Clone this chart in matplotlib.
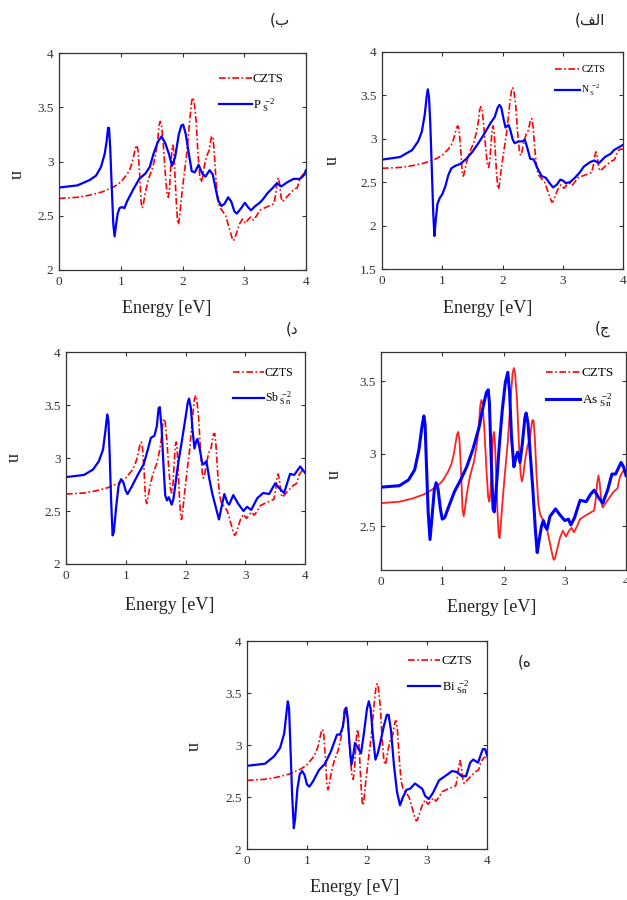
import matplotlib
matplotlib.use('Agg')
import matplotlib.pyplot as plt
from matplotlib.lines import Line2D

plt.rcParams['font.family'] = ['Liberation Serif', 'DejaVu Sans']
plt.rcParams['mathtext.fontset'] = 'custom'
plt.rcParams['mathtext.rm'] = 'Liberation Serif'
plt.rcParams['mathtext.it'] = 'Liberation Serif:italic'

# (energy [eV], n) pairs
# pristine CZTS, same curve in every panel
czts = [(0, 2.66), (0.3, 2.67), (0.5, 2.69), (0.7, 2.72), (0.9, 2.77), (1.0, 2.81),
        (1.1, 2.88), (1.15, 2.93), (1.19, 3.00), (1.22, 3.08), (1.24, 3.13), (1.26, 3.15),
        (1.28, 3.10), (1.31, 2.85), (1.33, 2.62), (1.35, 2.57), (1.37, 2.62), (1.4, 2.72),
        (1.45, 2.84), (1.52, 2.95), (1.57, 3.08), (1.6, 3.20), (1.62, 3.33), (1.64, 3.37),
        (1.66, 3.34), (1.69, 3.15), (1.72, 2.90), (1.75, 2.70), (1.77, 2.67), (1.79, 2.75),
        (1.81, 2.95), (1.83, 3.12), (1.845, 3.15), (1.86, 3.08), (1.88, 2.85), (1.9, 2.62),
        (1.92, 2.45), (1.935, 2.42), (1.95, 2.48), (1.98, 2.65), (2.02, 2.85), (2.07, 3.08),
        (2.12, 3.40), (2.15, 3.56), (2.17, 3.59), (2.19, 3.55), (2.22, 3.38), (2.25, 3.08),
        (2.28, 2.86), (2.3, 2.81), (2.32, 2.84), (2.35, 2.95), (2.39, 3.05), (2.43, 3.10),
        (2.45, 3.17), (2.47, 3.23), (2.49, 3.23), (2.51, 3.12), (2.54, 2.85), (2.57, 2.65),
        (2.6, 2.58), (2.65, 2.54), (2.7, 2.50), (2.76, 2.38), (2.8, 2.30), (2.82, 2.27),
        (2.84, 2.28), (2.88, 2.35), (2.92, 2.42), (2.97, 2.47), (3.02, 2.43), (3.07, 2.47),
        (3.11, 2.49), (3.15, 2.46), (3.2, 2.50), (3.25, 2.55), (3.32, 2.57), (3.4, 2.59),
        (3.48, 2.61), (3.51, 2.70), (3.53, 2.80), (3.55, 2.85), (3.57, 2.80), (3.6, 2.66),
        (3.62, 2.63), (3.7, 2.68), (3.8, 2.74), (3.86, 2.76), (3.9, 2.84), (3.95, 2.88),
        (4.0, 2.88)]

# N_S^-2
ns = [(0, 2.76), (0.3, 2.79), (0.5, 2.87), (0.6, 2.97), (0.66, 3.08), (0.71, 3.28),
      (0.74, 3.48), (0.76, 3.57), (0.78, 3.48), (0.8, 3.2), (0.82, 2.8), (0.85, 2.15),
      (0.87, 1.88), (0.89, 2.05), (0.92, 2.25), (0.96, 2.32), (1.0, 2.36), (1.05, 2.45),
      (1.1, 2.58), (1.15, 2.66), (1.22, 2.69), (1.3, 2.71), (1.4, 2.77), (1.5, 2.85),
      (1.6, 2.95), (1.7, 3.06), (1.8, 3.18), (1.87, 3.25), (1.92, 3.36), (1.95, 3.39),
      (1.98, 3.36), (2.02, 3.22), (2.05, 3.13), (2.08, 3.15), (2.1, 3.16), (2.13, 3.10),
      (2.17, 2.99), (2.2, 2.95), (2.27, 2.97), (2.33, 2.97), (2.37, 2.99), (2.41, 2.90),
      (2.46, 2.77), (2.52, 2.76), (2.58, 2.66), (2.65, 2.57), (2.72, 2.55), (2.78, 2.49),
      (2.84, 2.44), (2.9, 2.47), (2.96, 2.53), (3.0, 2.52), (3.05, 2.49), (3.12, 2.50),
      (3.2, 2.55), (3.28, 2.61), (3.35, 2.68), (3.45, 2.73), (3.52, 2.75), (3.6, 2.72),
      (3.7, 2.79), (3.8, 2.83), (3.85, 2.87), (3.95, 2.91), (4.0, 2.93)]

# P_S^-2
ps = [(0, 2.76), (0.3, 2.78), (0.5, 2.83), (0.6, 2.87), (0.68, 2.95), (0.74, 3.07),
      (0.77, 3.18), (0.795, 3.31), (0.81, 3.31), (0.83, 3.12), (0.855, 2.75), (0.88, 2.42),
      (0.9, 2.31), (0.92, 2.40), (0.95, 2.52), (0.98, 2.57), (1.02, 2.58), (1.06, 2.57),
      (1.1, 2.63), (1.2, 2.74), (1.3, 2.84), (1.4, 2.89), (1.47, 2.95), (1.53, 3.07),
      (1.6, 3.18), (1.66, 3.23), (1.72, 3.17), (1.78, 3.07), (1.83, 2.96), (1.88, 3.04),
      (1.94, 3.25), (1.98, 3.33), (2.01, 3.34), (2.05, 3.26), (2.1, 3.08), (2.15, 2.91),
      (2.2, 2.90), (2.26, 2.97), (2.32, 2.89), (2.37, 2.86), (2.44, 2.92), (2.49, 2.88),
      (2.54, 2.74), (2.58, 2.64), (2.63, 2.59), (2.68, 2.61), (2.74, 2.67), (2.79, 2.63),
      (2.84, 2.54), (2.88, 2.52), (2.95, 2.57), (3.01, 2.62), (3.06, 2.58), (3.11, 2.55),
      (3.18, 2.59), (3.25, 2.62), (3.3, 2.65), (3.38, 2.71), (3.45, 2.75), (3.53, 2.80),
      (3.6, 2.77), (3.7, 2.81), (3.8, 2.84), (3.9, 2.84), (3.96, 2.87), (4.0, 2.92)]

# Sb_Sn^-2
sb = [(0, 2.82), (0.3, 2.84), (0.45, 2.89), (0.55, 2.97), (0.62, 3.08), (0.66, 3.26),
      (0.69, 3.41), (0.71, 3.35), (0.73, 3.05), (0.755, 2.6), (0.78, 2.27), (0.8, 2.30),
      (0.84, 2.54), (0.88, 2.74), (0.92, 2.80), (0.96, 2.77), (1.0, 2.69), (1.03, 2.66),
      (1.1, 2.73), (1.2, 2.84), (1.3, 2.94), (1.37, 3.08), (1.42, 3.19), (1.48, 3.21),
      (1.52, 3.30), (1.55, 3.47), (1.57, 3.48), (1.6, 3.28), (1.63, 2.95), (1.66, 2.65),
      (1.69, 2.60), (1.72, 2.63), (1.77, 2.56), (1.8, 2.62), (1.87, 2.92), (1.95, 3.20),
      (2.0, 3.38), (2.04, 3.53), (2.06, 3.56), (2.09, 3.47), (2.12, 3.25), (2.15, 3.09),
      (2.18, 3.16), (2.2, 3.18), (2.24, 3.08), (2.28, 2.95), (2.3, 2.94), (2.35, 2.97),
      (2.4, 2.80), (2.45, 2.66), (2.5, 2.55), (2.56, 2.42), (2.6, 2.53), (2.65, 2.66),
      (2.7, 2.58), (2.73, 2.56), (2.8, 2.65), (2.88, 2.57), (2.97, 2.50), (3.03, 2.54),
      (3.1, 2.51), (3.2, 2.62), (3.3, 2.67), (3.4, 2.66), (3.5, 2.76), (3.58, 2.71),
      (3.65, 2.67), (3.75, 2.85), (3.82, 2.84), (3.92, 2.92), (4.0, 2.86)]

# As_Sn^-2
as_sn = [(0, 2.77), (0.3, 2.78), (0.45, 2.82), (0.55, 2.89), (0.62, 3.03), (0.67, 3.19),
         (0.7, 3.26), (0.72, 3.20), (0.74, 2.95), (0.77, 2.60), (0.8, 2.41), (0.83, 2.55),
         (0.87, 2.75), (0.9, 2.80), (0.93, 2.76), (0.97, 2.62), (1.0, 2.55), (1.04, 2.56),
         (1.1, 2.63), (1.2, 2.74), (1.3, 2.82), (1.4, 2.91), (1.5, 3.03), (1.6, 3.18),
         (1.67, 3.33), (1.72, 3.42), (1.75, 3.44), (1.77, 3.35), (1.8, 2.95), (1.83, 2.62),
         (1.85, 2.60), (1.88, 2.75), (1.93, 3.05), (1.98, 3.30), (2.03, 3.49), (2.07, 3.56),
         (2.1, 3.42), (2.13, 3.12), (2.17, 2.91), (2.2, 2.97), (2.23, 3.01), (2.27, 2.94),
         (2.31, 3.08), (2.35, 3.25), (2.37, 3.28), (2.4, 3.21), (2.44, 2.98), (2.48, 2.75),
         (2.52, 2.48), (2.55, 2.32), (2.58, 2.40), (2.62, 2.50), (2.65, 2.54), (2.68, 2.50),
         (2.71, 2.48), (2.76, 2.57), (2.85, 2.62), (2.92, 2.58), (3.0, 2.54), (3.06, 2.55),
         (3.1, 2.51), (3.16, 2.56), (3.25, 2.68), (3.35, 2.67), (3.42, 2.72), (3.48, 2.75),
         (3.55, 2.70), (3.62, 2.66), (3.7, 2.75), (3.77, 2.86), (3.83, 2.86), (3.92, 2.94),
         (3.96, 2.91), (4.0, 2.85)]

# Bi_Sn^-2
bi = [(0, 2.80), (0.3, 2.82), (0.45, 2.89), (0.55, 2.97), (0.62, 3.11), (0.66, 3.32),
      (0.68, 3.42), (0.7, 3.36), (0.72, 3.05), (0.75, 2.55), (0.78, 2.20), (0.8, 2.28),
      (0.84, 2.58), (0.88, 2.72), (0.92, 2.75), (0.96, 2.71), (1.0, 2.62), (1.04, 2.60),
      (1.1, 2.65), (1.2, 2.76), (1.3, 2.82), (1.4, 2.94), (1.5, 3.10), (1.55, 3.10),
      (1.6, 3.18), (1.63, 3.32), (1.655, 3.36), (1.68, 3.25), (1.71, 3.00), (1.74, 2.81),
      (1.77, 2.90), (1.8, 3.02), (1.85, 2.97), (1.9, 2.92), (1.95, 3.12), (2.0, 3.35),
      (2.03, 3.42), (2.06, 3.35), (2.1, 3.08), (2.14, 2.86), (2.18, 2.92), (2.22, 3.02),
      (2.28, 3.18), (2.33, 3.29), (2.36, 3.29), (2.4, 3.14), (2.45, 2.80), (2.5, 2.55),
      (2.55, 2.42), (2.6, 2.50), (2.66, 2.57), (2.72, 2.58), (2.8, 2.63), (2.87, 2.60),
      (2.92, 2.58), (2.97, 2.51), (3.03, 2.48), (3.1, 2.54), (3.2, 2.66), (3.3, 2.70),
      (3.42, 2.75), (3.5, 2.74), (3.58, 2.70), (3.65, 2.70), (3.72, 2.83), (3.77, 2.86),
      (3.85, 2.83), (3.93, 2.96), (3.97, 2.96), (4.0, 2.90)]

W, H = 627, 900
fig = plt.figure(figsize=(W / 100, H / 100), dpi=100)


def px_axes(left, right, top, bottom):
    return fig.add_axes([left / W, 1 - bottom / H, (right - left) / W, (bottom - top) / H])


def style(ax, ylim, yticks):
    ax.set_xlim(0, 4)
    ax.set_ylim(*ylim)
    ax.set_xticks([0, 1, 2, 3, 4])
    ax.set_yticks(yticks)
    ax.set_yticklabels([('%g' % t) for t in yticks])
    ax.tick_params(direction='in', top=True, right=True, length=3, width=0.8,
                   labelsize=9.5, labelcolor='#333333', color='#333333', pad=4)
    for s in ax.spines.values():
        s.set_linewidth(0.9)
        s.set_color('#333333')


def xy(pairs):
    return [p[0] for p in pairs], [p[1] for p in pairs]


red_kw = dict(color='#ff0000', lw=1.2, linestyle=(0, (4, 1.5, 1, 1.5)))
blue_kw = dict(color='#0000ff', lw=1.6)

panels = [
    # (axes px box, ylim, yticks, doped curve, label, legend anchor px, legend font)
    ((59, 306, 53, 270), (2, 4), [2, 2.5, 3, 3.5, 4], ps,
     r'P$_{\ \mathregular{S}}^{\ \ \mathregular{-2}}$', (219, 73), 9),
    ((382, 623, 52, 269), (1.5, 4), [1.5, 2, 2.5, 3, 3.5, 4], ns,
     r'N$_{\ \mathregular{S}}^{\ \ \mathregular{-2}}$', (555, 65), 7),
    ((66, 305, 352, 564), (2, 4), [2, 2.5, 3, 3.5, 4], sb,
     r'Sb$_{\ \mathregular{S\,n}}^{\ \ \mathregular{-2}}$', (233, 367), 8.5),
    ((381, 626, 352, 570), (2.2, 3.7), [2.5, 3, 3.5], as_sn,
     r'As$_{\ \mathregular{S\,n}}^{\ \ \mathregular{-2}}$', (546, 367), 9.5),
    ((247, 487, 641, 849), (2, 4), [2, 2.5, 3, 3.5, 4], bi,
     r'Bi$_{\ \mathregular{S\,n}}^{\ \ \mathregular{-2}}$', (408, 655), 9),
]

ce, cn = xy(czts)
for i, (box, ylim, yticks, doped, lab, anchor, lfs) in enumerate(panels):
    ax = px_axes(*box)
    de, dn = xy(doped)
    if i == 3:
        ax.plot(ce, cn, color='#ff2020', lw=1.3)
        ax.plot(de, dn, color='#0000ff', lw=2.2)
        handles = [Line2D([], [], **red_kw), Line2D([], [], color='#0000ff', lw=2.2)]
    else:
        ax.plot(ce, cn, **red_kw)
        ax.plot(de, dn, **blue_kw)
        handles = [Line2D([], [], **red_kw), Line2D([], [], **blue_kw)]
    style(ax, ylim, yticks)
    ax.legend(handles, ['CZTS', lab], loc='upper left',
              bbox_to_anchor=(anchor[0] / W, 1 - anchor[1] / H),
              bbox_transform=fig.transFigure, frameon=False, fontsize=lfs,
              handlelength=2.6, handletextpad=0.1, borderpad=0,
              borderaxespad=0, labelspacing=0.9)

# axis labels
xlabels = [(167, 309), (488, 309), (170, 605), (492, 607), (355, 887)]
ylabels = [(15, 175), (330, 160), (12, 458), (332, 475), (192, 747)]
for (x, y) in xlabels:
    fig.text(x / W, 1 - y / H, 'Energy [eV]', fontsize=13, ha='center', va='center',
             color='#222222')
for (x, y) in ylabels:
    fig.text(x / W, 1 - y / H, 'n', fontsize=13, ha='center', va='center',
             rotation=270, color='#222222')

# panel letters
letters = [(280, 20, '(\u0628'), (590, 20, '(\uFED2\uFEDF\u0627'), (292, 329, '(\u062F'),
           (603, 329, '(\u062C'), (525, 662, '(\u0647')]
for (x, y, s) in letters:
    fig.text(x / W, 1 - y / H, s, fontsize=11, ha='center', va='center',
             family=['DejaVu Sans'], color='#222222')

fig.savefig('out.png', dpi=100)
